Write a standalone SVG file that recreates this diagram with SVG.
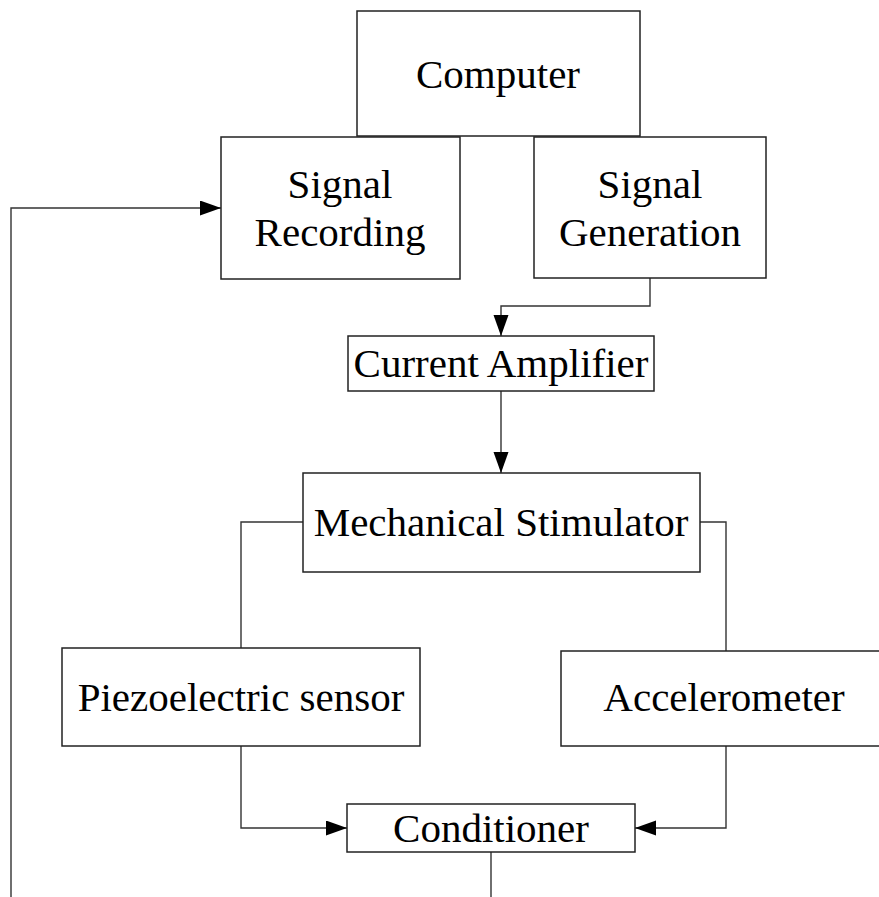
<svg xmlns="http://www.w3.org/2000/svg" width="879" height="897" viewBox="0 0 879 897">
<style>
.box{fill:#fff;stroke:#222;stroke-width:1.5}
.lbl{font-family:"Liberation Serif","Times New Roman",serif;font-size:41px;fill:#000;text-anchor:middle}
.con{fill:none;stroke:#333;stroke-width:1.4}
</style>
<defs>
<marker id="ah" markerUnits="userSpaceOnUse" markerWidth="22" markerHeight="16" refX="21" refY="7.5" orient="auto">
<path d="M0,0 L21,7.5 L0,15 z" fill="#000"/>
</marker>
</defs>
<rect width="879" height="897" fill="#fff"/>
<g id="connectors">
<path class="con" d="M650,278 V306 H501 V336" marker-end="url(#ah)"/>
<path class="con" d="M501,391 V473" marker-end="url(#ah)"/>
<path class="con" d="M303,522 H241 V648"/>
<path class="con" d="M700,522 H726 V651"/>
<path class="con" d="M241,746 V828 H347" marker-end="url(#ah)"/>
<path class="con" d="M726,746 V828 H635" marker-end="url(#ah)"/>
<path class="con" d="M491,852 V897"/>
<path class="con" d="M11,897 V208 H221" marker-end="url(#ah)"/>
</g>
<g id="computer">
<rect class="box" x="357" y="11" width="283" height="125"/>
<text class="lbl" x="498" y="88">Computer</text>
</g>
<g id="signal-recording">
<rect class="box" x="221" y="137" width="239" height="142"/>
<text class="lbl" x="340" y="198">Signal</text>
<text class="lbl" x="340" y="246">Recording</text>
</g>
<g id="signal-generation">
<rect class="box" x="534" y="137" width="232" height="141"/>
<text class="lbl" x="650" y="198">Signal</text>
<text class="lbl" x="650" y="246">Generation</text>
</g>
<g id="current-amplifier">
<rect class="box" x="348" y="336" width="306" height="55"/>
<text class="lbl" x="501" y="377">Current Amplifier</text>
</g>
<g id="mechanical-stimulator">
<rect class="box" x="303" y="473" width="397" height="99"/>
<text class="lbl" x="501" y="536">Mechanical Stimulator</text>
</g>
<g id="piezoelectric-sensor">
<rect class="box" x="62" y="648" width="358" height="98"/>
<text class="lbl" x="241" y="711">Piezoelectric sensor</text>
</g>
<g id="accelerometer">
<rect class="box" x="561" y="651" width="327" height="95"/>
<text class="lbl" x="724" y="711">Accelerometer</text>
</g>
<g id="conditioner">
<rect class="box" x="347" y="804" width="288" height="48"/>
<text class="lbl" x="491" y="842">Conditioner</text>
</g>
</svg>
